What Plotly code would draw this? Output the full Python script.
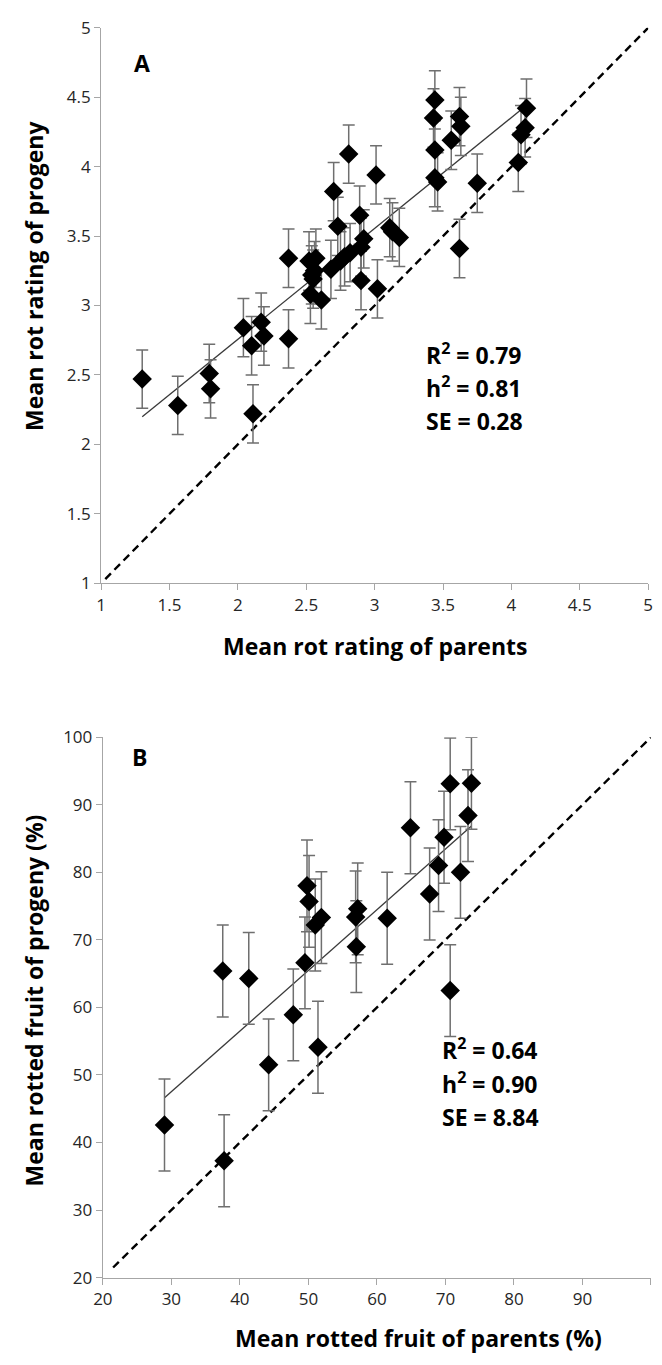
import numpy as np
import plotly.graph_objects as go

W, H = 662, 1365

# ---------------- Panel A data ----------------
a_parent = [1.30, 1.56, 1.79, 1.80, 2.04, 2.10, 2.11, 2.17, 2.19, 2.37, 2.37,
            2.52, 2.57, 2.54, 2.56, 2.53, 2.55, 2.61, 2.68, 2.70, 2.73, 2.75,
            2.78, 2.81, 2.82, 2.89, 2.92, 2.90, 2.90, 3.01, 3.02, 3.11, 3.13,
            3.18, 3.43, 3.44, 3.44, 3.44, 3.46, 3.56, 3.62, 3.63, 3.62, 3.75,
            4.05, 4.07, 4.11, 4.10]
a_progeny = [2.47, 2.28, 2.51, 2.40, 2.84, 2.71, 2.22, 2.88, 2.78, 2.76, 3.34,
             3.32, 3.34, 3.22, 3.25, 3.08, 3.19, 3.04, 3.26, 3.82, 3.57, 3.32,
             3.35, 4.09, 3.38, 3.65, 3.48, 3.42, 3.18, 3.94, 3.12, 3.56, 3.53,
             3.49, 4.35, 4.48, 4.12, 3.92, 3.89, 4.19, 4.36, 4.29, 3.41, 3.88,
             4.03, 4.23, 4.42, 4.28]
a_err = 0.21
a_diag = [1.03, 5.0]
a_ticks = [1, 1.5, 2, 2.5, 3, 3.5, 4, 4.5, 5]
a_stats = ["R<sup>2</sup> = 0.79", "h<sup>2</sup> = 0.81", "SE = 0.28"]
a_stats_y = [2.65, 2.41, 2.17]
a_stats_x = 3.36

# ---------------- Panel B data ----------------
b_parent = [29.0, 37.7, 37.5, 41.3, 44.2, 47.8, 51.4, 49.5, 49.8, 50.1, 51.0,
            51.9, 56.9, 57.2, 57.0, 61.5, 64.9, 67.7, 69.0, 69.8, 70.7, 70.7,
            72.2, 73.3, 73.8]
b_progeny = [42.6, 37.3, 65.4, 64.3, 51.5, 58.9, 54.1, 66.6, 78.0, 75.7, 72.2,
             73.3, 73.4, 74.6, 69.0, 73.2, 86.6, 76.8, 81.0, 85.2, 93.1, 62.5,
             80.0, 88.4, 93.2]
b_err = 6.8
b_diag = [21.5, 100.0]
b_ticks = [20, 30, 40, 50, 60, 70, 80, 90, 100]
b_stats = ["R<sup>2</sup> = 0.64", "h<sup>2</sup> = 0.90", "SE = 8.84"]
b_stats_y = [53.8, 48.8, 43.8]
b_stats_x = 69.2

FONT = "Open Sans"
AXIS_COL = "#a6a6a6"
ERR_COL = "#6f6f6f"

fig = go.Figure()


def add_panel(fig, xs, ys, err, diag, xa, ya):
    xs = np.asarray(xs, float)
    ys = np.asarray(ys, float)
    # 1:1 reference line
    fig.add_trace(go.Scatter(x=diag, y=diag, mode="lines", xaxis=xa, yaxis=ya,
                             line=dict(color="black", width=2.4, dash="8px,5px"),
                             hoverinfo="skip", showlegend=False))
    # least squares regression line
    slope, icpt = np.polyfit(xs, ys, 1)
    fx = np.array([xs.min(), xs.max()])
    fig.add_trace(go.Scatter(x=fx, y=icpt + slope * fx, mode="lines",
                             xaxis=xa, yaxis=ya,
                             line=dict(color="#3a3a3a", width=1.3),
                             hoverinfo="skip", showlegend=False))
    # points with error bars
    fig.add_trace(go.Scatter(x=xs, y=ys, mode="markers", xaxis=xa, yaxis=ya,
                             marker=dict(symbol="diamond", size=15, color="black",
                                         line=dict(width=0)),
                             error_y=dict(type="constant", value=err, color=ERR_COL,
                                          thickness=1.5, width=6),
                             showlegend=False))


add_panel(fig, a_parent, a_progeny, a_err, a_diag, "x", "y")
add_panel(fig, b_parent, b_progeny, b_err, b_diag, "x2", "y2")


def px_x(p):
    return p / W


def px_y(p):
    return 1 - p / H


axis_common = dict(showgrid=False, zeroline=False, showline=True, linecolor=AXIS_COL,
                   linewidth=1.3, ticks="outside", ticklen=6, tickcolor=AXIS_COL,
                   tickwidth=1.3, mirror=False,
                   tickfont=dict(family=FONT, size=17, color="#262626"))

fig.update_layout(
    width=W, height=H, autosize=False,
    margin=dict(l=0, r=0, t=0, b=0),
    paper_bgcolor="white", plot_bgcolor="white",
    xaxis=dict(domain=[px_x(93.3), px_x(653)], range=[1, 5], tickvals=a_ticks,
               anchor="y", **axis_common),
    yaxis=dict(domain=[px_y(581), px_y(16)], range=[1, 5], tickvals=a_ticks,
               anchor="x", **axis_common),
    xaxis2=dict(domain=[px_x(95), px_x(655.8)], range=[20, 100], tickvals=b_ticks,
                anchor="y2", **axis_common),
    yaxis2=dict(domain=[px_y(1287.3), px_y(737.7)], range=[20, 100], tickvals=b_ticks,
                anchor="x2", **axis_common),
)

title_font = dict(family=FONT, size=23, color="black")


def paper_text(text, x, y, angle=0):
    return dict(text="<b>" + text + "</b>", x=px_x(x), y=px_y(y), xref="paper",
                yref="paper", xanchor="center", yanchor="middle", showarrow=False,
                textangle=angle, font=title_font)


ann = [
    paper_text("A", 135, 52),
    paper_text("B", 132, 758),
    paper_text("Mean rot rating of parents", 373, 645),
    paper_text("Mean rot rating of progeny", 25, 268, -90),
    paper_text("Mean rotted fruit of parents (%)", 418, 1349),
    paper_text("Mean rotted fruit of progeny (%)", 25, 1005, -90),
]

stat_font = dict(family=FONT, size=23, color="black")
for t, yy in zip(a_stats, a_stats_y):
    ann.append(dict(text="<b>" + t + "</b>", x=a_stats_x, y=yy, xref="x", yref="y",
                    xanchor="left", yanchor="middle", showarrow=False, font=stat_font))
for t, yy in zip(b_stats, b_stats_y):
    ann.append(dict(text="<b>" + t + "</b>", x=b_stats_x, y=yy, xref="x2", yref="y2",
                    xanchor="left", yanchor="middle", showarrow=False, font=stat_font))

fig.update_layout(annotations=ann)
fig.write_html("out.html")
